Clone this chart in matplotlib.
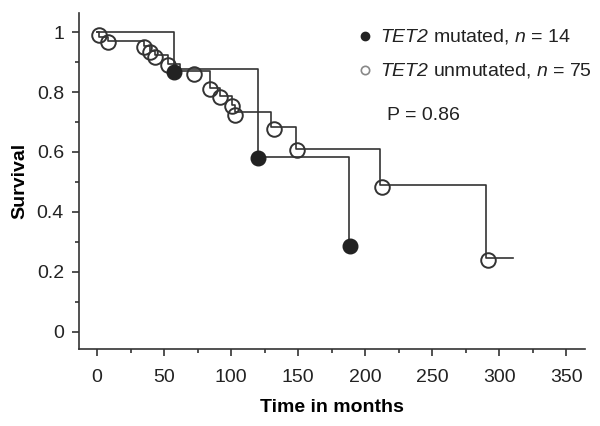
import numpy as np
import matplotlib
matplotlib.use("Agg")
import matplotlib.pyplot as plt

plt.rcParams['font.family'] = ['Liberation Sans', 'DejaVu Sans']
plt.rcParams['mathtext.fontset'] = 'custom'
plt.rcParams['mathtext.rm'] = 'Liberation Sans:italic'
plt.rcParams['mathtext.it'] = 'Liberation Sans:italic'

# TET2 mutated (n = 14) Kaplan-Meier steps
mut_times = [0, 57, 120, 188]
mut_surv = [1.0, 0.877, 0.584, 0.287]
mut_mark_t = [57, 120, 189]
mut_mark_s = [0.866, 0.579, 0.287]

# TET2 unmutated (n = 75) Kaplan-Meier steps
unm_times = [0, 1.7, 8.4, 34.6, 39.6, 43.3, 53.2, 62, 84.3, 91.8, 100.5, 103,
             130, 148, 211, 290, 310]
unm_surv = [1.0, 0.985, 0.971, 0.955, 0.938, 0.922, 0.895, 0.871, 0.814, 0.786,
            0.758, 0.733, 0.683, 0.611, 0.489, 0.245, 0.245]
unm_mark_t = [1.7, 8.4, 34.6, 39.6, 43.3, 53.2, 71.9, 84.3, 91.8, 100.5, 103,
              131.6, 149, 212.5, 291.3]
unm_mark_s = [0.989, 0.967, 0.950, 0.933, 0.917, 0.889, 0.861, 0.811, 0.783,
              0.755, 0.722, 0.678, 0.606, 0.484, 0.240]

line_c = '#333333'
txt_c = '#222222'
fs = 14

fig = plt.figure(figsize=(6, 4.26), dpi=100)
ax = fig.add_axes([0.132, 0.181, 0.843, 0.788])

ax.step(mut_times, mut_surv, where='post', color=line_c, lw=1.2)
ax.step(unm_times, unm_surv, where='post', color=line_c, lw=1.2)
ax.plot(unm_mark_t, unm_mark_s, 'o', ms=10.5, mfc='none', mec=line_c, mew=1.4)
ax.plot(mut_mark_t, mut_mark_s, 'o', ms=10.5, mfc=txt_c, mec=txt_c, mew=1.0)

ax.set_xlim(-13.4, 364)
ax.set_ylim(-0.057, 1.063)
ax.set_xticks(np.arange(0, 351, 50))
ax.set_xticks(np.arange(25, 351, 50), minor=True)
ax.set_yticks([0, 0.2, 0.4, 0.6, 0.8, 1.0])
ax.set_yticklabels(['0', '0.2', '0.4', '0.6', '0.8', '1'])
ax.set_yticks(np.arange(0.1, 1.0, 0.2), minor=True)

for s in ['top', 'right']:
    ax.spines[s].set_visible(False)
for s in ['left', 'bottom']:
    ax.spines[s].set_color(line_c)
    ax.spines[s].set_linewidth(1.2)
ax.tick_params(which='major', length=5, width=1.2, color=line_c,
               labelsize=fs, labelcolor=txt_c, pad=6)
ax.tick_params(axis='x', which='major', pad=9.5)
ax.tick_params(which='minor', length=3, width=1.2, color=line_c)

ax.set_xlabel('Time in months', fontsize=fs, fontweight='bold', labelpad=9)
ax.set_ylabel('Survival', fontsize=fs, fontweight='bold', labelpad=6)

# legend drawn by hand
ax.plot([0.565], [0.932], 'o', ms=6, color=txt_c, transform=ax.transAxes, clip_on=False)
ax.plot([0.565], [0.830], 'o', ms=6, mfc='white', mec='#888888', mew=1.2,
        transform=ax.transAxes, clip_on=False)
ax.text(0.595, 0.932, r'$TET2$ mutated, $n$ = 14', transform=ax.transAxes,
        fontsize=fs, va='center', color=txt_c)
ax.text(0.595, 0.830, r'$TET2$ unmutated, $n$ = 75', transform=ax.transAxes,
        fontsize=fs, va='center', color=txt_c)
ax.text(0.609, 0.696, 'P = 0.86', transform=ax.transAxes, fontsize=fs, va='center',
        color=txt_c)

fig.savefig('out.png', dpi=100)
